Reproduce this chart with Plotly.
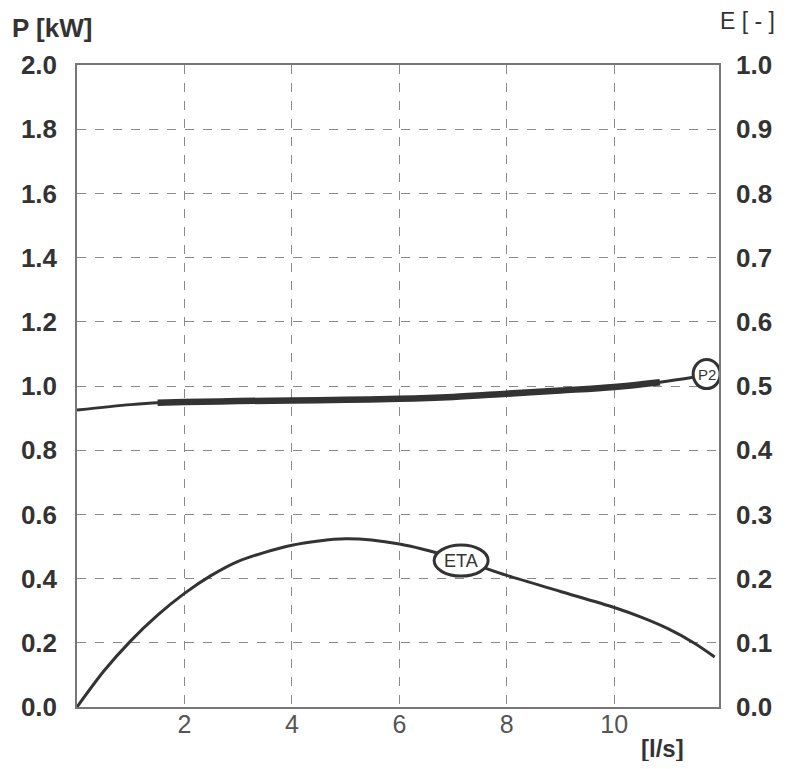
import plotly.graph_objects as go

# Data
p2_x = [0, 1, 1.5, 2, 3, 4, 5, 6, 7, 8, 9, 10, 10.85, 11.5]
p2_y = [0.925, 0.942, 0.948, 0.950, 0.953, 0.955, 0.957, 0.960, 0.966, 0.976, 0.986, 0.997, 1.012, 1.028]
p2_thick_from, p2_thick_to = 1.5, 10.85

eta_x = [0, 0.5, 1, 1.5, 2, 2.5, 3, 4, 5, 6, 7, 8, 9, 10, 10.5, 11, 11.5, 11.87]
eta_y = [0, 0.056, 0.103, 0.143, 0.177, 0.205, 0.227, 0.252, 0.262, 0.254, 0.233, 0.205, 0.180, 0.155, 0.140, 0.122, 0.099, 0.078]

x_ticks = [2, 4, 6, 8, 10]
p_ticks = [0.0, 0.2, 0.4, 0.6, 0.8, 1.0, 1.2, 1.4, 1.6, 1.8, 2.0]
e_ticks = [0.0, 0.1, 0.2, 0.3, 0.4, 0.5, 0.6, 0.7, 0.8, 0.9, 1.0]

p2_label = ("P2", 11.72, 1.037)
eta_label = ("ETA", 7.15, 0.228)

line_col = "#333333"
grid_col = "#8a8a8a"
font_fam = "Liberation Sans, Arial, sans-serif"

fig = go.Figure()
fig.add_trace(go.Scatter(x=p2_x, y=p2_y, mode="lines", line=dict(color=line_col, width=3, shape="spline"),
                         hoverinfo="skip", showlegend=False))
tx = [x for x in p2_x if p2_thick_from <= x <= p2_thick_to]
ty = [y for x, y in zip(p2_x, p2_y) if p2_thick_from <= x <= p2_thick_to]
fig.add_trace(go.Scatter(x=tx, y=ty, mode="lines", line=dict(color=line_col, width=6.5, shape="spline"),
                         hoverinfo="skip", showlegend=False))
fig.add_trace(go.Scatter(x=eta_x, y=eta_y, mode="lines", yaxis="y2",
                         line=dict(color=line_col, width=3, shape="spline", smoothing=0.8),
                         hoverinfo="skip", showlegend=False))

# label ellipses
fig.add_shape(type="circle", xref="x", yref="y", xsizemode="pixel", ysizemode="pixel",
              xanchor=p2_label[1], yanchor=p2_label[2], x0=-13.5, x1=13.5, y0=-14.5, y1=14.5,
              line=dict(color=line_col, width=3), fillcolor="white")
fig.add_annotation(x=p2_label[1], y=p2_label[2], xref="x", yref="y", text=p2_label[0], showarrow=False,
                   xanchor="center", yanchor="middle",
                   font=dict(family=font_fam, size=15, color="#333"))
fig.add_shape(type="circle", xref="x", yref="y2", xsizemode="pixel", ysizemode="pixel",
              xanchor=eta_label[1], yanchor=eta_label[2], x0=-27, x1=27, y0=-15.5, y1=15.5,
              line=dict(color=line_col, width=3), fillcolor="white")
fig.add_annotation(x=eta_label[1], y=eta_label[2], xref="x", yref="y2", text=eta_label[0], showarrow=False,
                   xanchor="center", yanchor="middle",
                   font=dict(family=font_fam, size=18, color="#333"))

# axis titles
fig.add_annotation(x=-0.0385, y=1.0576, xref="paper", yref="paper", text="<b>P [kW]</b>", showarrow=False,
                   xanchor="center", yanchor="middle",
                   font=dict(family=font_fam, size=26, color="#333"))
fig.add_annotation(x=1.0446, y=1.068, xref="paper", yref="paper", text="E [ - ]", showarrow=False,
                   xanchor="center", yanchor="middle",
                   font=dict(family=font_fam, size=23, color="#333"))
fig.add_annotation(x=0.912, y=-0.0639, xref="paper", yref="paper", text="<b>[l/s]</b>", showarrow=False,
                   xanchor="center", yanchor="middle",
                   font=dict(family=font_fam, size=24, color="#333"))

fig.update_layout(
    width=777, height=753,
    margin=dict(l=69, r=58, t=57, b=54),
    paper_bgcolor="white", plot_bgcolor="white",
    xaxis=dict(range=[0, 11.95], tickvals=x_ticks, ticktext=[str(v) for v in x_ticks],
               showgrid=True, gridcolor=grid_col, griddash="dash", gridwidth=1,
               showline=True, linecolor="#777", linewidth=1.5, mirror=True, zeroline=False,
               ticks="", ticklabelstandoff=-6,
               tickfont=dict(family=font_fam, size=25, color="#555")),
    yaxis=dict(range=[0, 2.0], tickvals=p_ticks, ticktext=["<b>%.1f</b>" % v for v in p_ticks],
               showgrid=True, gridcolor=grid_col, griddash="dash", gridwidth=1,
               showline=True, linecolor="#777", linewidth=1.5, mirror=True, zeroline=False,
               ticks="", ticklabelstandoff=13,
               tickfont=dict(family=font_fam, size=26, color="#333")),
    yaxis2=dict(range=[0, 1.0], tickvals=e_ticks, ticktext=["<b>%.1f</b>" % v for v in e_ticks],
                overlaying="y", side="right", showgrid=False, zeroline=False,
                ticks="", ticklabelstandoff=16,
                tickfont=dict(family=font_fam, size=26, color="#333")),
)

fig.write_html("out.html")
